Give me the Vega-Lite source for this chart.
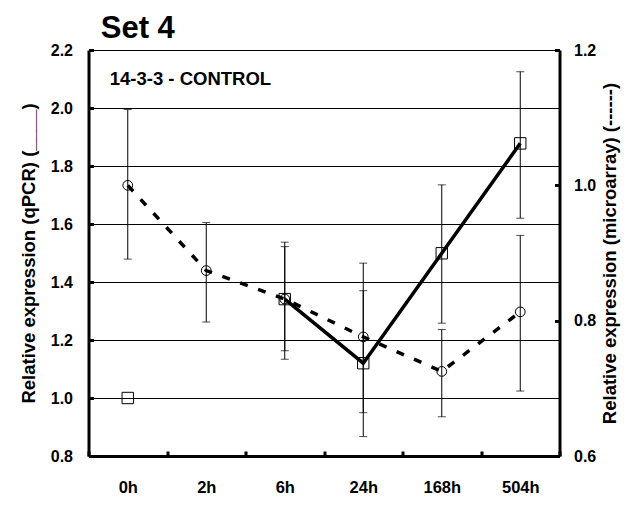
{
  "$schema": "https://vega.github.io/schema/vega-lite/v6.json",
  "width": 471,
  "height": 406,
  "autosize": {"type": "none"},
  "padding": {"left": 88.5, "top": 50, "right": 74.5, "bottom": 58},
  "background": "white",
  "config": {"font": "Liberation Sans", "view": {"stroke": null}},
  "data": {"values": [
    {"i": 0, "t": "0h", "q": 1.0, "qlo": null, "qhi": null, "m": 1.0, "mlo": 0.891, "mhi": 1.112},
    {"i": 1, "t": "2h", "q": null, "qlo": null, "qhi": null, "m": 0.874, "mlo": 0.798, "mhi": 0.945},
    {"i": 2, "t": "6h", "q": 1.341, "qlo": 1.163, "qhi": 1.522, "m": 0.832, "mlo": 0.743, "mhi": 0.916},
    {"i": 3, "t": "24h", "q": 1.12, "qlo": 0.867, "qhi": 1.37, "m": 0.776, "mlo": 0.664, "mhi": 0.885},
    {"i": 4, "t": "168h", "q": 1.499, "qlo": 1.258, "qhi": 1.735, "m": 0.725, "mlo": 0.658, "mhi": 0.787},
    {"i": 5, "t": "504h", "q": 1.878, "qlo": 1.62, "qhi": 2.125, "m": 0.813, "mlo": 0.696, "mhi": 0.926}
  ]},
  "encoding": {
    "x": {
      "field": "t", "type": "ordinal",
      "sort": ["0h", "2h", "6h", "24h", "168h", "504h"],
      "scale": {"type": "band", "paddingInner": 0, "paddingOuter": 0},
      "axis": {
        "title": null, "domainWidth": 3, "domainColor": "#000",
        "tickSize": -5, "tickWidth": 3, "tickColor": "#000", "tickBand": "extent",
        "labelAngle": 0, "labelFontSize": 16.5, "labelFontWeight": "bold", "labelColor": "#000", "labelPadding": 28
      }
    }
  },
  "layer": [
    {
      "encoding": {
        "y": {
          "field": "q", "type": "quantitative",
          "scale": {"domain": [0.8, 2.2], "nice": false, "zero": false},
          "axis": {
            "title": "Relative expression (qPCR) (____)",
            "values": [0.8, 1.0, 1.2, 1.4, 1.6, 1.8, 2.0, 2.2], "format": ".1f",
            "domainWidth": 3, "domainColor": "#000",
            "tickSize": -5, "tickWidth": 3, "tickColor": "#000",
            "labelFontSize": 16, "labelFontWeight": "bold", "labelColor": "#000", "labelPadding": 21,
            "grid": true, "gridColor": "#000", "gridWidth": 1,
            "titleFontSize": 18.5, "titleFontWeight": "bold", "titleColor": "#000",
            "titleAngle": -90, "titleX": -60, "titleY": 203, "titleAlign": "center", "titleBaseline": "middle"
          }
        }
      },
      "layer": [
        {
          "mark": {"type": "point", "shape": "square", "size": 130, "filled": false, "stroke": "#000", "strokeWidth": 1, "opacity": 1}
        },
        {
          "transform": [{"filter": "datum.t != '0h' && isValid(datum.q)"}],
          "mark": {"type": "line", "color": "#000", "strokeWidth": 3.5},
          "encoding": {"order": {"field": "i"}}
        },
        {
          "mark": {"type": "rule", "color": "#000", "strokeWidth": 1},
          "encoding": {
            "y": {"field": "qlo", "type": "quantitative"},
            "y2": {"field": "qhi"}
          }
        },
        {
          "mark": {"type": "tick", "color": "#000", "size": 8, "thickness": 1},
          "encoding": {"y": {"field": "qhi", "type": "quantitative"}}
        },
        {
          "mark": {"type": "tick", "color": "#000", "size": 8, "thickness": 1},
          "encoding": {"y": {"field": "qlo", "type": "quantitative"}}
        }
      ]
    },
    {
      "encoding": {
        "y": {
          "field": "m", "type": "quantitative",
          "scale": {"domain": [0.6, 1.2], "nice": false, "zero": false},
          "axis": {
            "orient": "right",
            "title": "Relative expression (microarray) (------)",
            "values": [0.6, 0.8, 1.0, 1.2], "format": ".1f",
            "domainWidth": 3, "domainColor": "#000",
            "tickSize": -5, "tickWidth": 3, "tickColor": "#000",
            "labelFontSize": 16, "labelFontWeight": "bold", "labelColor": "#000", "labelPadding": 19,
            "grid": false,
            "titleFontSize": 18.5, "titleFontWeight": "bold", "titleColor": "#000",
            "titleAngle": -90, "titleX": 50, "titleY": 203, "titleAlign": "center", "titleBaseline": "middle"
          }
        }
      },
      "layer": [
        {
          "mark": {"type": "point", "shape": "circle", "size": 95, "filled": false, "stroke": "#000", "strokeWidth": 1, "opacity": 1}
        },
        {
          "mark": {"type": "line", "color": "#000", "strokeWidth": 3.5, "strokeDash": [8, 11]},
          "encoding": {"order": {"field": "i"}}
        },
        {
          "mark": {"type": "rule", "color": "#000", "strokeWidth": 1},
          "encoding": {
            "y": {"field": "mlo", "type": "quantitative"},
            "y2": {"field": "mhi"}
          }
        },
        {
          "mark": {"type": "tick", "color": "#000", "size": 8, "thickness": 1},
          "encoding": {"y": {"field": "mhi", "type": "quantitative"}}
        },
        {
          "mark": {"type": "tick", "color": "#000", "size": 8, "thickness": 1},
          "encoding": {"y": {"field": "mlo", "type": "quantitative"}}
        }
      ]
    },
    {
      "data": {"values": [{"label": "14-3-3 - CONTROL", "t": "0h"}]},
      "mark": {"type": "text", "align": "left", "baseline": "middle", "dx": -18, "fontSize": 18.5, "fontWeight": "bold", "color": "#000"},
      "encoding": {
        "y": {"datum": 2.1, "type": "quantitative", "scale": {"domain": [0.8, 2.2], "nice": false, "zero": false}, "axis": null},
        "text": {"field": "label"}
      }
    },
    {
      "data": {"values": [{"label": "Set 4", "t": "0h"}]},
      "mark": {"type": "text", "align": "left", "baseline": "alphabetic", "dx": -27, "fontSize": 31, "fontWeight": "bold", "color": "#000"},
      "encoding": {
        "y": {"datum": 2.2414, "type": "quantitative", "scale": {"domain": [0.8, 2.2], "nice": false, "zero": false}, "axis": null},
        "text": {"field": "label"}
      }
    }
  ],
  "resolve": {"scale": {"y": "independent"}}
}
